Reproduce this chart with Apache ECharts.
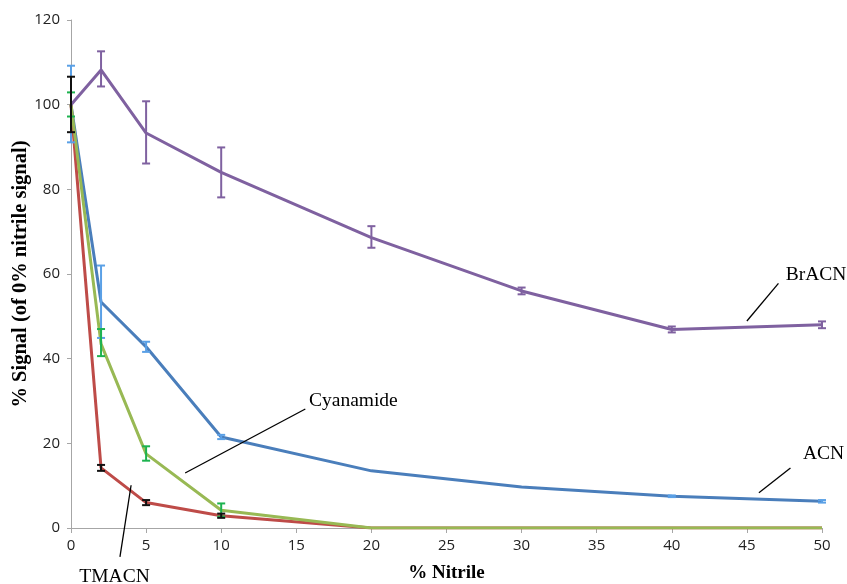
<!DOCTYPE html>
<html>
<head>
<meta charset="utf-8">
<script src="https://cdn.jsdelivr.net/npm/echarts@6/dist/echarts.min.js"></script>
<style>
  html, body { margin: 0; padding: 0; background: #fff; }
  #chart { width: 847px; height: 584px; }
</style>
</head>
<body>
<div id="chart"></div>
<script>
// data
const nitrile = [0, 2, 5, 10, 20, 30, 40, 50];

const brACN = [100, 108.2, 93.3, 84, 68.6, 56, 46.9, 48];
const brACNLow = [null, 104.3, 86.1, 78.1, 66.2, 55.2, 46.2, 47.2];
const brACNHigh = [null, 112.6, 100.8, 89.9, 71.3, 56.8, 47.6, 48.8];

const acn = [100, 53.4, 42.8, 21.5, 13.5, 9.7, 7.5, 6.3];
const acnLow = [91.1, 44.9, 41.6, 21.0, null, null, 7.3, 6.0];
const acnHigh = [109.2, 62, 44.0, 22.0, null, null, 7.7, 6.6];

const cyanamide = [100, 43.5, 17.5, 4.2, 0, 0, 0, 0];
const cyanLow = [97.2, 40.6, 15.9, 2.7, null, null, null, null];
const cyanHigh = [102.9, 47, 19.3, 5.8, null, null, null, null];

const tmacn = [100, 14.2, 6.0, 2.9, 0, 0, 0, 0];
const tmacnLow = [93.5, 13.5, 5.4, 2.4, null, null, null, null];
const tmacnHigh = [106.6, 14.9, 6.6, 3.4, null, null, null, null];

// annotation labels: [text, label x, label y, leader from x, y, leader to x, y] in data units
const notes = [
  ['BrACN', 49.6, 59.7, 47.1, 57.8, 45.0, 48.9],
  ['ACN', 50.1, 17.5, 47.9, 14.2, 45.8, 8.3],
  ['Cyanamide', 18.8, 30.0, 15.6, 28.1, 7.6, 13.0],
  ['TMACN', 2.9, -11.6, 4.0, 10.1, 3.26, -6.8]
];

const chart = echarts.init(document.getElementById('chart'));

function lineSeries(name, values, color, z) {
  return {
    name: name,
    type: 'line',
    data: nitrile.map((x, i) => [x, values[i]]),
    symbol: 'none',
    lineStyle: { color: color, width: 3 },
    itemStyle: { color: color },
    z: z
  };
}

function errorSeries(name, low, high, color, z) {
  const rows = [];
  nitrile.forEach((x, i) => {
    if (low[i] != null) rows.push([x, low[i], high[i]]);
  });
  return {
    name: name + ' err',
    type: 'custom',
    data: rows,
    encode: { x: 0, y: [1, 2] },
    z: z,
    renderItem: function (params, api) {
      const lo = api.coord([api.value(0), api.value(1)]);
      const hi = api.coord([api.value(0), api.value(2)]);
      const w = 4;
      const st = { stroke: color, lineWidth: 2 };
      return {
        type: 'group',
        children: [
          { type: 'line', shape: { x1: lo[0], y1: lo[1], x2: hi[0], y2: hi[1] }, style: st },
          { type: 'line', shape: { x1: lo[0] - w, y1: lo[1], x2: lo[0] + w, y2: lo[1] }, style: st },
          { type: 'line', shape: { x1: hi[0] - w, y1: hi[1], x2: hi[0] + w, y2: hi[1] }, style: st }
        ]
      };
    }
  };
}

chart.setOption({
  animation: false,
  grid: { left: 71, right: 25, top: 20, bottom: 56, containLabel: false, outerBoundsMode: 'none' },
  xAxis: {
    type: 'value',
    min: 0, max: 50, interval: 5,
    name: '% Nitrile',
    nameLocation: 'middle',
    nameGap: 36,
    nameMoveOverlap: false,
    nameTextStyle: { fontFamily: 'Liberation Serif', fontWeight: 'bold', fontSize: 19, color: '#000' },
    axisLine: { show: true, lineStyle: { color: '#a6a6a6', width: 1 } },
    axisTick: { show: true, length: 5, lineStyle: { color: '#a6a6a6' } },
    axisLabel: { color: '#222', fontFamily: 'Open Sans', fontSize: 15, margin: 10 },
    splitLine: { show: false }
  },
  yAxis: {
    type: 'value',
    min: 0, max: 120, interval: 20,
    name: '% Signal (of 0% nitrile signal)',
    nameLocation: 'middle',
    nameGap: 40,
    nameRotate: 90,
    nameMoveOverlap: false,
    nameTextStyle: { fontFamily: 'Liberation Serif', fontWeight: 'bold', fontSize: 20.5, color: '#000' },
    axisLine: { show: true, lineStyle: { color: '#a6a6a6', width: 1 } },
    axisTick: { show: true, length: 4, lineStyle: { color: '#a6a6a6' } },
    axisLabel: { color: '#222', fontFamily: 'Open Sans', fontSize: 15, margin: 11 },
    splitLine: { show: false }
  },
  series: [
    lineSeries('ACN', acn, '#4A7EBB', 2),
    lineSeries('TMACN', tmacn, '#BE4B48', 3),
    lineSeries('Cyanamide', cyanamide, '#98B954', 4),
    lineSeries('BrACN', brACN, '#7F61A0', 5),
    errorSeries('ACN', acnLow, acnHigh, '#5AA0E6', 6),
    errorSeries('Cyanamide', cyanLow, cyanHigh, '#1DB34F', 7),
    errorSeries('TMACN', tmacnLow, tmacnHigh, '#111111', 8),
    errorSeries('BrACN', brACNLow, brACNHigh, '#7F61A0', 9)
  ]
});

// place annotation text and leader lines from data coordinates
const graphics = [];
notes.forEach(n => {
  const lp = chart.convertToPixel({ gridIndex: 0 }, [n[1], n[2]]);
  const a = chart.convertToPixel({ gridIndex: 0 }, [n[3], n[4]]);
  const b = chart.convertToPixel({ gridIndex: 0 }, [n[5], n[6]]);
  graphics.push({
    type: 'line',
    shape: { x1: a[0], y1: a[1], x2: b[0], y2: b[1] },
    style: { stroke: '#000', lineWidth: 1.3 },
    z: 20
  });
  graphics.push({
    type: 'text',
    x: lp[0], y: lp[1],
    style: {
      text: n[0],
      fontFamily: 'Liberation Serif',
      fontSize: 19.5,
      fill: '#000',
      textAlign: 'center',
      textVerticalAlign: 'middle'
    },
    z: 20
  });
});
chart.setOption({ graphic: graphics });
</script>
</body>
</html>
